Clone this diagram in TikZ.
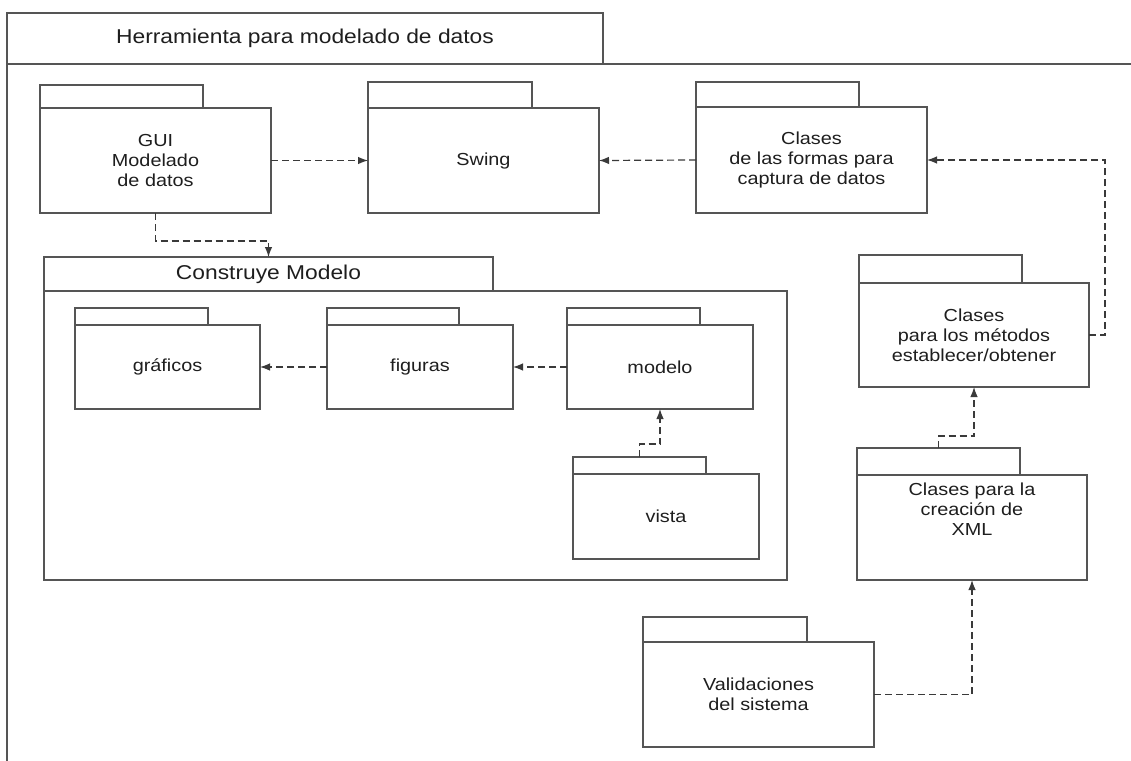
\documentclass[tikz,border=0pt]{standalone}
\usepackage{fontspec}
\usetikzlibrary{arrows.meta,calc}

\newfontfamily\umlsans{Liberation Sans}[FakeStretch=1.14]
\newcommand\pkgfont{\umlsans\fontsize{17.4}{20}\selectfont}
\newcommand\hdrfont{\umlsans\fontsize{20}{23}\selectfont}

\definecolor{boxgray}{HTML}{555555}
\definecolor{arrowgray}{HTML}{3A3A3A}
\definecolor{ink}{HTML}{1E1E1E}

\tikzset{
  pkgline/.style={draw=boxgray, line width=1.2pt},
  pkgtab/.style={pkgline, fill=white, inner sep=0pt, outer sep=0pt, anchor=south west},
  pkgbody/.style={pkgline, fill=white, inner sep=0pt, outer sep=0pt, anchor=north west,
    align=center, font=\pkgfont, text=ink},
  pkglabel/.style={align=center, font=\pkgfont, text=ink, inner sep=0pt},
  dep/.style={draw=arrowgray, line width=1.2pt, dash pattern=on 7pt off 4pt,
    -{Latex[length=10pt,width=7.5pt]}},
}

% UML package: name, body top-left x, y, body width, height, tab width, tab height, label
\newcommand\umlpkg[8]{%
  \node[pkgtab, minimum width=#6pt, minimum height=#7pt] (#1-tab) at (#2,#3) {};
  \node[pkgbody, minimum width=#4pt, minimum height=#5pt] (#1) at (#2,#3) {#8};
}

\begin{document}
\begin{tikzpicture}[x=1pt, y=-1pt]
\useasboundingbox (0,0) rectangle (1131,760);
\fill[white] (0,0) rectangle (1131,760);

% enclosing package
\node[pkgline, fill=white, inner sep=0pt, outer sep=0pt, anchor=north west,
      minimum width=596pt, minimum height=51pt, font=\hdrfont, text=ink]
      (frame-tab) at (7,13) {Herramienta para modelado de datos};
\draw[pkgline] (frame-tab.south east) -- ++(530,0);
\draw[pkgline] (frame-tab.south west) -- ++(0,700);

% top row
\umlpkg{gui}{40}{108}{231}{105}{163}{23}{GUI\\Modelado\\de datos}
\umlpkg{swing}{368}{108}{231}{105}{164}{26}{Swing}
\umlpkg{formas}{696}{107}{231}{106}{163}{25}{Clases\\de las formas para\\captura de datos}

% Construye Modelo package
\node[pkgtab, minimum width=449pt, minimum height=34pt, font=\hdrfont, text=ink]
      (cm-tab) at (44,291) {Construye Modelo};
\node[pkgbody, minimum width=743pt, minimum height=289pt] (cm) at (44,291) {};
\umlpkg{graficos}{75}{325}{185}{84}{133}{17}{gráficos}
\umlpkg{figuras}{327}{325}{186}{84}{132}{17}{figuras}
\umlpkg{modelo}{567}{325}{186}{84}{133}{17}{modelo}
\umlpkg{vista}{573}{474}{186}{85}{133}{17}{vista}

% right column
\umlpkg{setter}{859}{283}{230}{104}{163}{28}{Clases\\para los métodos\\establecer/obtener}
\umlpkg{xml}{857}{475}{230}{105}{163}{27}{}
\node[pkglabel] (xml-label) at ($(xml.center)+(0,-18)$) {Clases para la\\creación de\\XML};
\umlpkg{valid}{643}{642}{231}{105}{164}{25}{Validaciones\\del sistema}

% dependencies
\coordinate (k-gui) at (0,241);
\coordinate (k-vista) at (0,444);
\coordinate (k-xml) at (0,436);
\coordinate (k-setter) at (1105,0);

\draw[dep] (gui.east) -- (swing.west);
\draw[dep] (formas.west) -- (swing.east);
\draw[dep] (gui.south) |- (cm-tab.north |- k-gui) -- (cm-tab.north);
\draw[dep] (figuras.west) -- (graficos.east);
\draw[dep] (modelo.west) -- (figuras.east);
\draw[dep] (vista-tab.north) |- (modelo.south |- k-vista) -- (modelo.south);
\draw[dep] (xml-tab.north) |- (setter.south |- k-xml) -- (setter.south);
\draw[dep] (valid.east) -| (xml.south);
\draw[dep] (setter.east) -| (k-setter |- formas.east) -- (formas.east);
\end{tikzpicture}
\end{document}
